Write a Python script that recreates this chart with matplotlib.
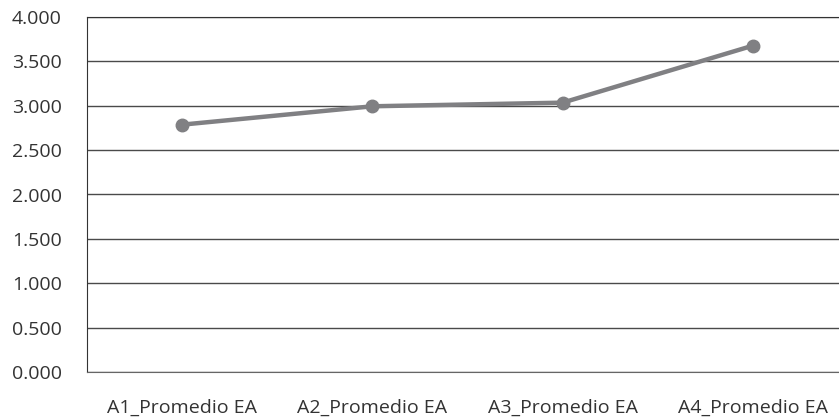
import matplotlib
matplotlib.use("Agg")
import matplotlib.pyplot as plt
from matplotlib.ticker import FuncFormatter

categories = ["A1_Promedio EA", "A2_Promedio EA", "A3_Promedio EA", "A4_Promedio EA"]
values = [2.787, 2.994, 3.035, 3.677]
yticks = [0, 0.5, 1.0, 1.5, 2.0, 2.5, 3.0, 3.5, 4.0]

plt.rcParams['font.family'] = ['Open Sans', 'DejaVu Sans']

fig = plt.figure(figsize=(8.39, 4.19), dpi=100)
ax = fig.add_axes([87/839, 1-372/419, (848-87)/839, (372-17)/419])

x = list(range(len(categories)))
ax.plot(x, values, color="#808083", linewidth=3.2, marker="o", markersize=9, zorder=3,
        solid_capstyle="round")

ax.set_xlim(-0.5, len(categories) - 0.5)
ax.set_ylim(0, 4)
ax.set_yticks(yticks)
ax.yaxis.set_major_formatter(FuncFormatter(lambda v, p: f"{v:.3f}"))
ax.set_xticks(x)
ax.set_xticklabels(categories)

ax.grid(axis="y", color="#4a4a4a", linewidth=1)
ax.set_axisbelow(True)
ax.spines["right"].set_visible(False)
ax.spines["top"].set_color("#333333")
ax.spines["left"].set_color("#333333")
ax.spines["bottom"].set_color("#666666")
ax.tick_params(axis="both", length=0, labelsize=14, colors="#333333")
ax.tick_params(axis="y", pad=18)
ax.tick_params(axis="x", pad=19)

fig.savefig("out.png", dpi=100)
